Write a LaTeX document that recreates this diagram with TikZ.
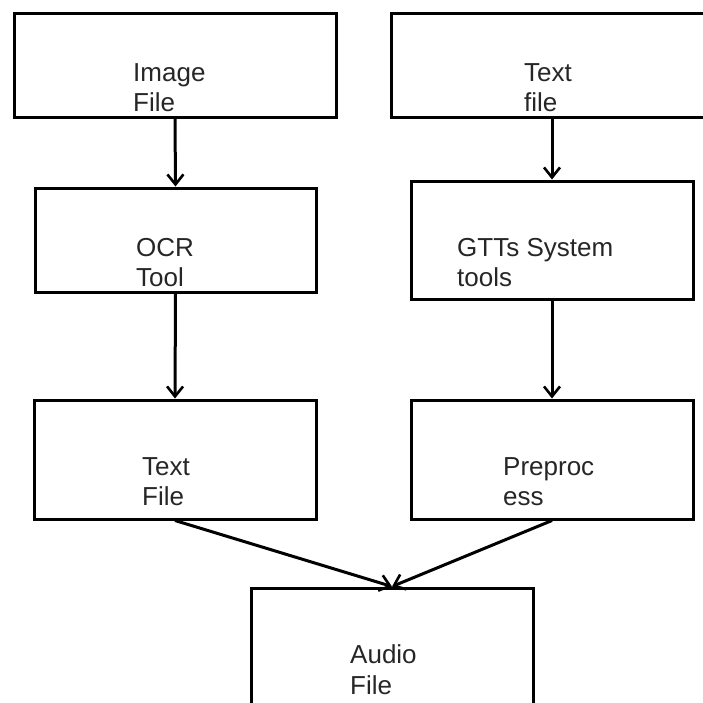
\documentclass[tikz,border=0pt]{standalone}
\usepackage{fontspec}
\setmainfont{Liberation Sans}
\usetikzlibrary{arrows.meta}
\definecolor{txtgray}{rgb}{0.15,0.15,0.15}
\begin{document}
\begin{tikzpicture}[x=1pt,y=-1pt,
  box/.style={draw=black, line width=3pt, rectangle, inner sep=0pt},
  lbl/.style={anchor=base west, align=left, inner sep=0pt, text=txtgray,
    font=\fontsize{26}{30.5}\selectfont},
  conn/.style={line width=3pt, -{Straight Barb[length=10pt,width=16pt,line width=2.6pt]}}]
\useasboundingbox (0,0) rectangle (703,702);
% boxes
\node[box, minimum width=322pt, minimum height=104pt] (img) at (175,65) {};
\node[box, minimum width=324pt, minimum height=104pt] (txt1) at (553,65) {};
\node[box, minimum width=281pt, minimum height=104pt] (ocr) at (175.5,240) {};
\node[box, minimum width=282pt, minimum height=118pt] (gtts) at (552,240) {};
\node[box, minimum width=282pt, minimum height=119pt] (tf) at (175,459.5) {};
\node[box, minimum width=282pt, minimum height=119pt] (pre) at (552,459.5) {};
\node[box, minimum width=282pt, minimum height=119pt] (aud) at (392,647.5) {};
% labels (base anchor = baseline of the last line)
\node[lbl] (imgT) at (133,111.5) {Image\\File};
\node[lbl] (txt1T) at (524,111.5) {Text\\file};
\node[lbl] (ocrT) at (136,286.5) {OCR\\Tool};
\node[lbl] (gttsT) at (457,286.5) {GTTs System\\tools};
\node[lbl] (tfT) at (142,505.5) {Text\\File};
\node[lbl] (preT) at (503,505.5) {Preproc\\ess};
\node[lbl] (audT) at (350,694) {Audio\\File};
% connectors
\draw[conn] (img.south) -- (ocr.north);
\draw[conn] (gtts.north |- txt1.south) -- (gtts.north);
\draw[conn] (ocr.south) -- (tf.north);
\draw[conn] (gtts.south) -- (pre.north);
\draw[conn] (tf.south) -- (aud.north);
\draw[conn] (pre.south) -- (aud.north);
\end{tikzpicture}
\end{document}
